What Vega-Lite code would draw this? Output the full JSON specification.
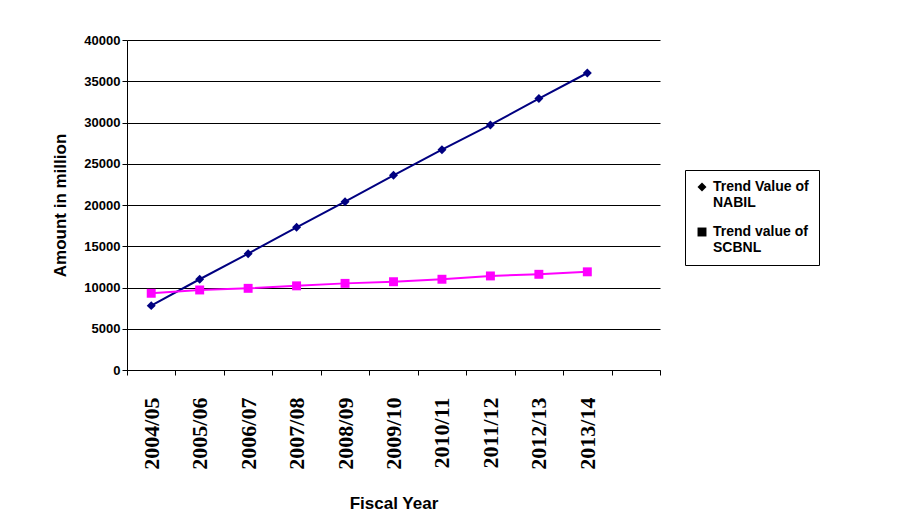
{
"$schema":"https://vega.github.io/schema/vega-lite/v6.json",
"width":533,"height":330,
"autosize":"none",
"padding":{"left":127,"top":40,"right":244,"bottom":161},
"background":"white",
"config":{"view":{"stroke":null},"font":"Liberation Sans",
"legend":{"orient":"none","legendX":558,"legendY":130,"labelFont":"Liberation Sans","labelFontSize":14,"labelFontWeight":"bold","labelColor":"black","labelLimit":150,"strokeColor":"black","padding":10,"rowPadding":14,"symbolSize":80}},
"data":{"values":[
{"y":"2004/05","s":"Trend Value of NABIL","v":7800},
{"y":"2005/06","s":"Trend Value of NABIL","v":11000},
{"y":"2006/07","s":"Trend Value of NABIL","v":14100},
{"y":"2007/08","s":"Trend Value of NABIL","v":17300},
{"y":"2008/09","s":"Trend Value of NABIL","v":20400},
{"y":"2009/10","s":"Trend Value of NABIL","v":23600},
{"y":"2010/11","s":"Trend Value of NABIL","v":26700},
{"y":"2011/12","s":"Trend Value of NABIL","v":29700},
{"y":"2012/13","s":"Trend Value of NABIL","v":32900},
{"y":"2013/14","s":"Trend Value of NABIL","v":36000},
{"y":"2004/05","s":"Trend value of SCBNL","v":9300},
{"y":"2005/06","s":"Trend value of SCBNL","v":9700},
{"y":"2006/07","s":"Trend value of SCBNL","v":9900},
{"y":"2007/08","s":"Trend value of SCBNL","v":10200},
{"y":"2008/09","s":"Trend value of SCBNL","v":10500},
{"y":"2009/10","s":"Trend value of SCBNL","v":10700},
{"y":"2010/11","s":"Trend value of SCBNL","v":11000},
{"y":"2011/12","s":"Trend value of SCBNL","v":11400},
{"y":"2012/13","s":"Trend value of SCBNL","v":11600},
{"y":"2013/14","s":"Trend value of SCBNL","v":11900}
]},
"encoding":{
"x":{"field":"y","type":"nominal","sort":null,
"scale":{"domain":["2004/05","2005/06","2006/07","2007/08","2008/09","2009/10","2010/11","2011/12","2012/13","2013/14","x"],"paddingInner":0,"paddingOuter":0},
"axis":{"title":"Fiscal Year","titleFont":"Liberation Sans","titleFontSize":17,"titleFontWeight":"bold","titleColor":"black","titlePadding":26,
"labelExpr":"datum.value=='x'?'':datum.label","labelAngle":-90,"labelFont":"Liberation Serif","labelFontSize":22,"labelFontWeight":"bold","labelColor":"black","labelPadding":22,
"tickBand":"extent","tickColor":"black","domainColor":"black","tickSize":5,"grid":false}},
"y":{"field":"v","type":"quantitative","scale":{"domain":[0,40000]},
"axis":{"title":"Amount in million","titleFont":"Liberation Sans","titleFontSize":17,"titleFontWeight":"bold","titleColor":"black","titlePadding":14,
"values":[0,5000,10000,15000,20000,25000,30000,35000,40000],"format":"d","labelFont":"Liberation Sans","labelFontSize":13,"labelFontWeight":"bold","labelColor":"black",
"gridColor":"black","gridOpacity":1,"tickColor":"black","domainColor":"black","tickSize":5}}
},
"layer":[
{"mark":{"type":"line","strokeWidth":2},
 "encoding":{"color":{"field":"s","type":"nominal","scale":{"range":["#000080","#FF00FF"]},"legend":null}}},
{"mark":{"type":"point","filled":true,"size":80,"opacity":1},
 "encoding":{
  "color":{"field":"s","type":"nominal","legend":{"title":null,"labelExpr":"[substring(datum.label,0,14), substring(datum.label,15)]"}},
  "shape":{"field":"s","type":"nominal","scale":{"range":["diamond","square"]},"legend":{"title":null,"labelExpr":"[substring(datum.label,0,14), substring(datum.label,15)]"}}}}
]
}
